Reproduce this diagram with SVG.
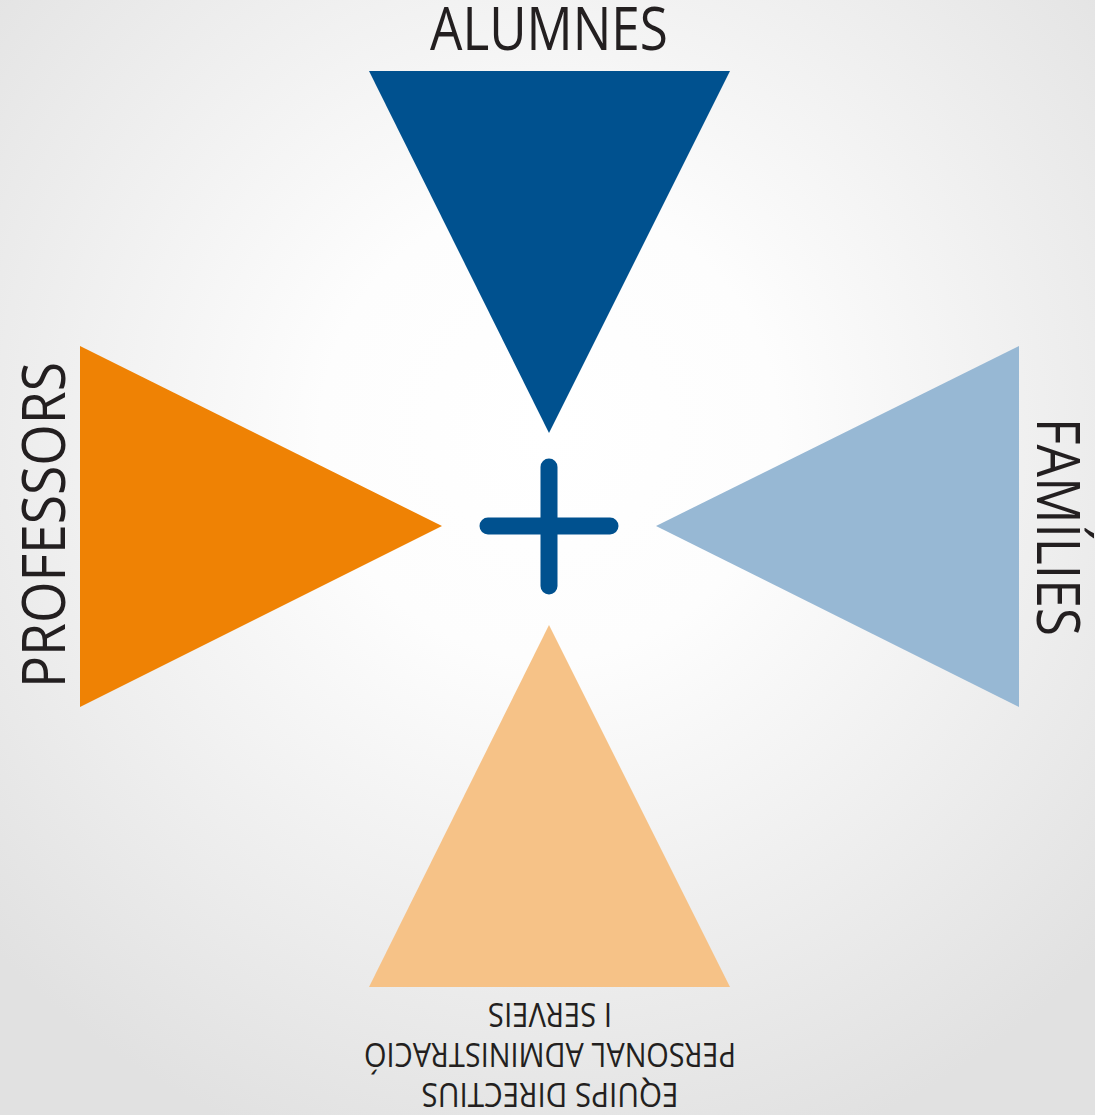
<svg xmlns="http://www.w3.org/2000/svg" width="1095" height="1115" viewBox="0 0 1095 1115">
<defs>
<radialGradient id="bg" gradientUnits="userSpaceOnUse" cx="549" cy="430" r="760">
<stop offset="0" stop-color="#ffffff"/>
<stop offset="0.3" stop-color="#fdfdfd"/>
<stop offset="1" stop-color="#e1e1e1"/>
</radialGradient>
<style>
.lbl{font-family:"Open Sans","DejaVu Sans",sans-serif;fill:#231f20;text-anchor:middle}
.big{font-size:60px}
.small{font-size:32px}
</style>
</defs>
<rect x="0" y="0" width="1095" height="1115" fill="url(#bg)"/>
<g id="alumnes">
<polygon points="369,71 730,71 549,433" fill="#00518f"/>
<text class="lbl big" x="549" y="50" textLength="238" lengthAdjust="spacingAndGlyphs">ALUMNES</text>
</g>
<g id="professors">
<polygon points="80,346 80,707 442,526" fill="#ef8204"/>
<text class="lbl big" transform="translate(65,525) rotate(-90)" x="0" y="0" textLength="326" lengthAdjust="spacingAndGlyphs">PROFESSORS</text>
</g>
<g id="families">
<polygon points="1019,346 1019,707 656,526" fill="#97b8d4"/>
<text class="lbl big" transform="translate(1037,527) rotate(90)" x="0" y="0" textLength="218" lengthAdjust="spacingAndGlyphs">FAMÍLIES</text>
</g>
<g id="equips">
<polygon points="549,625 369,987 730,987" fill="#f6c287"/>
<g transform="rotate(180 550 1055)">
<text class="lbl small" x="550" y="1027" textLength="257" lengthAdjust="spacingAndGlyphs">EQUIPS DIRECTIUS</text>
<text class="lbl small" x="550" y="1067" textLength="372" lengthAdjust="spacingAndGlyphs">PERSONAL ADMINISTRACIÓ</text>
<text class="lbl small" x="550" y="1107" textLength="124" lengthAdjust="spacingAndGlyphs">I SERVEIS</text>
</g>
</g>
<g id="plus">
<path d="M549,467 V586 M488,526 H610" stroke="#00518f" stroke-width="17" stroke-linecap="round" fill="none"/>
</g>
<g id="connectors"/>
</svg>
